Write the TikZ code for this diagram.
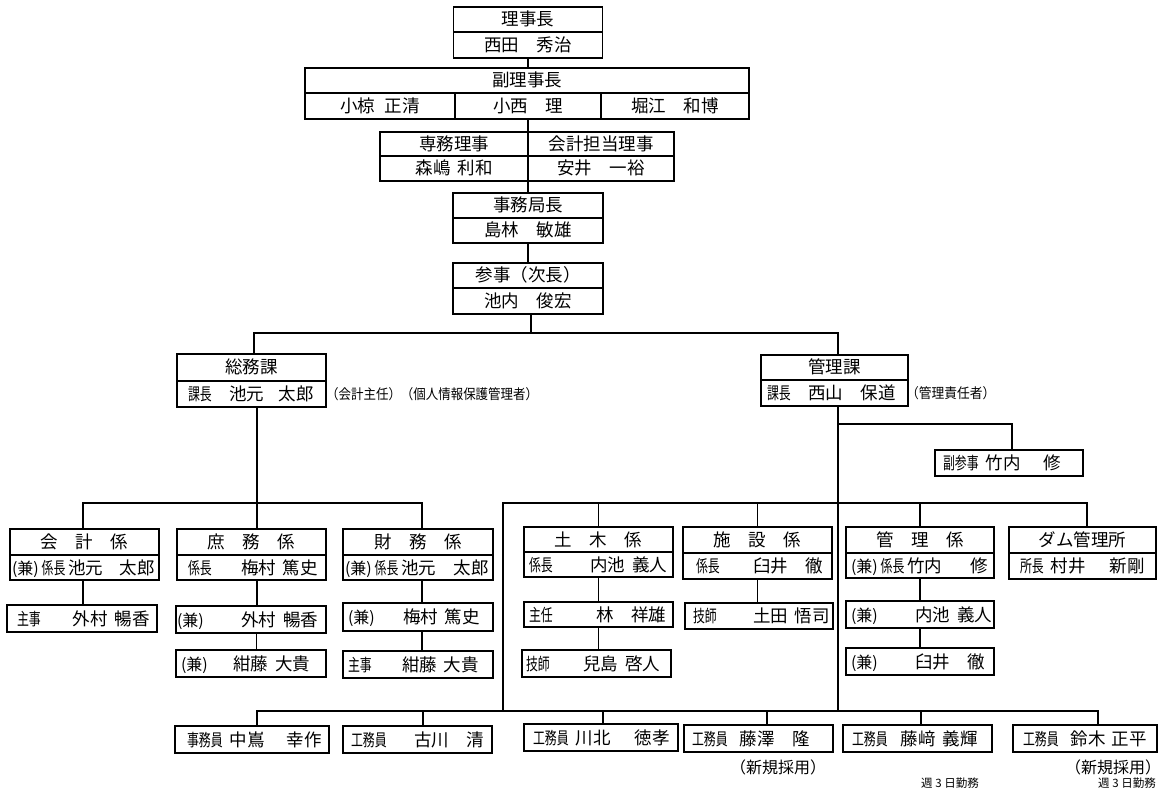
\documentclass[tikz,border=0pt]{standalone}
\usepackage{fontspec}
\setmainfont{Noto Sans CJK JP}
\newcommand\mylbl[1]{\scalebox{0.7}[1]{\fontsize{17}{17}\selectfont #1}}
\newcommand\myken{{\fontsize{16}{16}\selectfont(兼)}}
\newcommand\myhs{\hspace{7pt}}
\newcommand\mylr[5]{\makebox[#1pt]{\hspace{#2pt}#3\hfill #4\hspace{#5pt}}}
\tikzset{
  box/.style={draw, line width=1.3pt, inner sep=0pt, outer sep=0pt, text height=14pt, text depth=1pt, font=\fontsize{17.5}{18}\selectfont},
  conn/.style={line width=1.1pt},
  note/.style={inner sep=0pt, font=\fontsize{14}{15}\selectfont},
  bignote/.style={inner sep=0pt, anchor=base, font=\fontsize{16}{17}\selectfont},
  smallnote/.style={inner sep=0pt, anchor=base, font=\fontsize{11.5}{12}\selectfont},
}
\begin{document}
\begin{tikzpicture}[x=1pt,y=-1pt]
\useasboundingbox (0,0) rectangle (1162,791);
\fill[white] (0,0) rectangle (1162,791);
% top stack
\node[box, minimum width=149pt, minimum height=25pt] (rj1) at (528,19.5) {理事長};
\node[box, minimum width=149pt, minimum height=26pt] (rj2) at (528,45) {西田　秀治};
\node[box, minimum width=444pt, minimum height=25pt] (frj) at (527,80.5) {副理事長};
\node[box, minimum width=150pt, minimum height=26pt] (frja) at (380,106) {小椋\hspace{10pt}正清};
\node[box, minimum width=146pt, minimum height=26pt] (frjb) at (528,106) {小西　理};
\node[box, minimum width=148pt, minimum height=26pt] (frjc) at (675,106) {堀江　和博};
\node[box, minimum width=148pt, minimum height=24pt] (sm1) at (454,144) {専務理事};
\node[box, minimum width=148pt, minimum height=25pt] (sm2) at (454,168.5) {森嶋\myhs 利和};
\node[box, minimum width=146pt, minimum height=24pt] (kk1) at (601,144) {会計担当理事};
\node[box, minimum width=146pt, minimum height=25pt] (kk2) at (601,168.5) {安井　一裕};
\node[box, minimum width=150pt, minimum height=25pt] (jk1) at (528,205.5) {事務局長};
\node[box, minimum width=150pt, minimum height=25pt] (jk2) at (528,230.5) {島林　敏雄};
\node[box, minimum width=150pt, minimum height=25pt] (sj1) at (528,275.5) {参事（次長）};
\node[box, minimum width=150pt, minimum height=26pt] (sj2) at (528,301) {池内　俊宏};
% sections
\node[box, minimum width=149pt, minimum height=27pt] (sh1) at (251.5,367.5) {総務課};
\node[box, minimum width=149pt, minimum height=26pt] (sh2) at (251.5,394) {\mylr{149}{11}{\mylbl{課長}　池元}{太郎}{12}};
\node[note, anchor=west] (n1) at (sh2.east) {\scalebox{0.89}[1]{（会計主任）（個人情報保護管理者）}};
\node[box, minimum width=147pt, minimum height=25pt] (kr1) at (834.5,367.5) {管理課};
\node[box, minimum width=147pt, minimum height=26pt] (kr2) at (834.5,393) {\mylr{147}{6}{\mylbl{課長}　西山　保道}{}{0}};
\node[note, anchor=west] (n2) at ([xshift=-2pt]kr2.east) {\scalebox{0.91}[1]{（管理責任者）}};
\node[box, minimum width=148pt, minimum height=26pt] (fs) at (1009,463) {\mylr{148}{8}{\mylbl{副参事}\myhs 竹内}{修}{22}};
% 総務課 units
\node[box, minimum width=149pt, minimum height=26pt] (ka1) at (84.5,542) {会　計　係};
\node[box, minimum width=149pt, minimum height=25pt] (ka2) at (84.5,567.5) {\mylr{149}{2}{\myken\,\mylbl{係長}\,池元}{太郎}{4}};
\node[box, minimum width=150pt, minimum height=27pt] (ka3) at (82,618.5) {\mylr{150}{10}{\mylbl{主事}}{外村\myhs 暢香}{7}};
\node[box, minimum width=149pt, minimum height=26pt] (sy1) at (251.5,542) {庶　務　係};
\node[box, minimum width=149pt, minimum height=25pt] (sy2) at (251.5,567.5) {\mylr{149}{11}{\mylbl{係長}}{梅村\myhs 篤史}{8}};
\node[box, minimum width=150pt, minimum height=27pt] (sy3) at (251,619.5) {\mylr{150}{1}{\myken}{外村\myhs 暢香}{8}};
\node[box, minimum width=150pt, minimum height=27pt] (sy4) at (251,663.5) {\mylr{150}{5}{\myken}{紺藤\myhs 大貴}{16}};
\node[box, minimum width=150pt, minimum height=26pt] (zm1) at (418,542) {財　務　係};
\node[box, minimum width=150pt, minimum height=25pt] (zm2) at (418,567.5) {\mylr{150}{2}{\myken\,\mylbl{係長}\,池元}{太郎}{4}};
\node[box, minimum width=150pt, minimum height=28pt] (zm3) at (418,617) {\mylr{150}{5}{\myken}{梅村\myhs 篤史}{13}};
\node[box, minimum width=150pt, minimum height=27pt] (zm4) at (418,664.5) {\mylr{150}{5}{\mylbl{主事}}{紺藤\myhs 大貴}{14}};
% 管理課 units
\node[box, minimum width=149pt, minimum height=25pt] (dm1) at (598.5,539.5) {土　木　係};
\node[box, minimum width=149pt, minimum height=25pt] (dm2) at (598.5,564.5) {\mylr{149}{5}{\mylbl{係長}}{内池\myhs 義人}{6}};
\node[box, minimum width=149pt, minimum height=25pt] (dm3) at (598.5,614.5) {\mylr{149}{5}{\mylbl{主任}}{林　祥雄}{7}};
\node[box, minimum width=149pt, minimum height=27pt] (dm4) at (596.5,663.5) {\mylr{149}{4}{\mylbl{技師}}{兒島\myhs 啓人}{11}};
\node[box, minimum width=149pt, minimum height=26pt] (ss1) at (757.5,540) {施　設　係};
\node[box, minimum width=149pt, minimum height=26pt] (ss2) at (757.5,566) {\mylr{149}{13}{\mylbl{係長}}{臼井　徹}{9}};
\node[box, minimum width=148pt, minimum height=26pt] (ss3) at (759,616) {\mylr{148}{8}{\mylbl{技師}}{土田\myhs 悟司}{3}};
\node[box, minimum width=148pt, minimum height=26pt] (kn1) at (920,540) {管　理　係};
\node[box, minimum width=148pt, minimum height=25pt] (kn2) at (920,565.5) {\mylr{148}{5}{\myken\,\mylbl{係長}\,竹内}{修}{6}};
\node[box, minimum width=148pt, minimum height=27pt] (kn3) at (920,614.5) {\mylr{148}{5}{\myken}{内池\myhs 義人}{2}};
\node[box, minimum width=148pt, minimum height=27pt] (kn4) at (920,661.5) {\mylr{148}{5}{\myken}{臼井　徹}{9}};
\node[box, minimum width=147pt, minimum height=26pt] (dam1) at (1082.5,540) {ダム管理所};
\node[box, minimum width=147pt, minimum height=26pt] (dam2) at (1082.5,566) {\mylr{147}{11}{\mylbl{所長}\myhs 村井}{新剛}{11}};
% bottom staff
\node[box, minimum width=154pt, minimum height=27pt] (b1) at (252,739.5) {\mylr{154}{12}{\mylbl{事務員}\myhs 中嶌}{幸作}{7}};
\node[box, minimum width=149pt, minimum height=27pt] (b2) at (417.5,739.5) {\mylr{149}{8}{\mylbl{工務員}}{古川　清}{8}};
\node[box, minimum width=154pt, minimum height=27pt] (b3) at (601,737.5) {\mylr{154}{9}{\mylbl{工務員}\myhs 川北}{徳孝}{8}};
\node[box, minimum width=149pt, minimum height=27pt] (b4) at (758.5,738.5) {\mylr{149}{8}{\mylbl{工務員}\hspace{12pt}藤澤　隆}{}{0}};
\node[box, minimum width=149pt, minimum height=27pt] (b5) at (917.5,738.5) {\mylr{149}{9}{\mylbl{工務員}\hspace{13pt}藤﨑\myhs 義輝}{}{0}};
\node[box, minimum width=144pt, minimum height=27pt] (b6) at (1085,738.5) {\mylr{144}{10}{\mylbl{工務員}\hspace{12pt}鈴木\hspace{6pt}正平}{}{0}};
\node[bignote] (n3) at (778,773) {（新規採用）};
\node[smallnote] (n4) at (950,787) {週 3 日勤務};
\node[bignote] (n5) at (1113,773) {（新規採用）};
\node[smallnote] (n6) at (1127,787) {週 3 日勤務};
% coordinates
\coordinate (kx) at (838,333);
\coordinate (kfs) at (838,424);
\coordinate (kbot) at (838,711);
\coordinate (yS) at (0,503);
\coordinate (lft) at (503,503);
\coordinate (lftb) at (503,711);
% connectors top
\draw[conn] (rj2.south) -- (frj.north -| rj2.south);
\draw[conn] (frjb.south) -- (sm1.north east);
\draw[conn] (sm2.south east) -- (jk1.north);
\draw[conn] (jk2.south) -- (sj1.north);
\draw[conn] ([xshift=3pt]sj2.south) -- ([xshift=3pt]sj2.south |- kx);
\draw[conn] ([xshift=2.5pt]sh1.north) |- (kx) -- (kx |- kr1.north);
\draw[conn] (kx |- kr2.south) -- (kbot);
\draw[conn] (kfs) -| ([xshift=3pt]fs.north);
% 総務課 tree
\draw[conn] ([xshift=5.5pt]sh2.south) -- ([xshift=5.5pt]sy1.north);
\draw[conn] ([xshift=-1.5pt]ka1.north) |- ([xshift=4pt]zm1.north |- yS) -- ([xshift=4pt]zm1.north);
\draw[conn] ([xshift=-1.5pt]ka2.south) -- ([xshift=-1.5pt]ka2.south |- ka3.north);
\draw[conn] ([xshift=5.5pt]sy2.south) -- ([xshift=5.5pt]sy2.south |- sy3.north);
\draw[conn] ([xshift=5.5pt]sy3.south) -- ([xshift=5.5pt]sy3.south |- sy4.north);
\draw[conn] ([xshift=4pt]zm2.south) -- ([xshift=4pt]zm2.south |- zm3.north);
\draw[conn] ([xshift=4pt]zm3.south) -- ([xshift=4pt]zm3.south |- zm4.north);
% 管理課 tree
\draw[conn] (lftb) -- (lft) -- ([xshift=4.5pt]dam1.north |- lft) -- ([xshift=4.5pt]dam1.north);
\draw[conn] (dm1.north |- lft) -- (dm1.north);
\draw[conn] (ss1.north |- lft) -- (ss1.north);
\draw[conn] (kn1.north |- lft) -- (kn1.north);
\draw[conn] (dm2.south) -- (dm2.south |- dm3.north);
\draw[conn] (dm3.south) -- (dm3.south |- dm4.north);
\draw[conn] (ss2.south) -- (ss2.south |- ss3.north);
\draw[conn] (kn2.south) -- (kn2.south |- kn3.north);
\draw[conn] (kn3.south) -- (kn3.south |- kn4.north);
% bottom row
\draw[conn] ([xshift=5pt]b1.north) |- ([xshift=13pt]b6.north |- kbot) -- ([xshift=13pt]b6.north);
\draw[conn] ([xshift=5.5pt]b2.north |- kbot) -- ([xshift=5.5pt]b2.north);
\draw[conn] ([xshift=2pt]b3.north |- kbot) -- ([xshift=2pt]b3.north);
\draw[conn] ([xshift=8.5pt]b4.north |- kbot) -- ([xshift=8.5pt]b4.north);
\draw[conn] ([xshift=3.5pt]b5.north |- kbot) -- ([xshift=3.5pt]b5.north);
\end{tikzpicture}
\end{document}
